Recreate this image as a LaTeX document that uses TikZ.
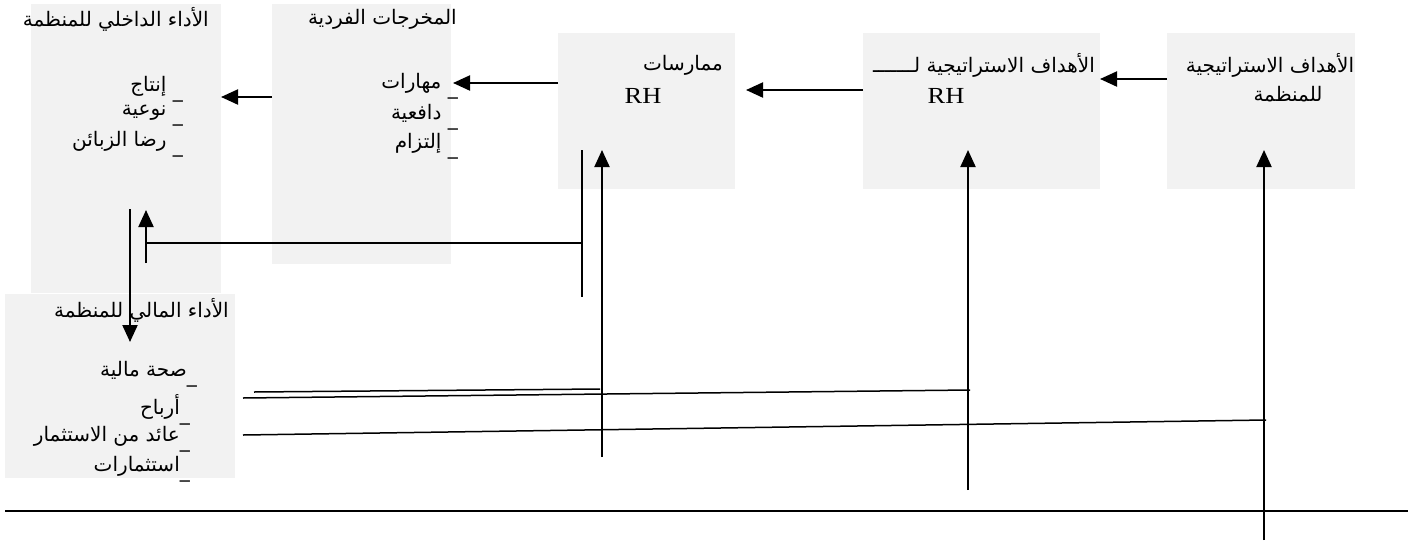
\documentclass[tikz,border=0pt]{standalone}
\usepackage{fontspec}
\setmainfont{Liberation Serif}
\newfontfamily\arabicfont[Script=Arabic]{DejaVu Sans}
\usetikzlibrary{arrows.meta}
\TeXXeTstate=1
\definecolor{boxgray}{HTML}{F2F2F2}
% right-to-left Arabic run
\newcommand{\artext}[1]{\beginR #1\endR}
% the lowered dash that opens each list item
\newcommand{\lowdash}{\smash{\raisebox{-6pt}{\_}}}

\begin{document}
\begin{tikzpicture}[x=1pt,y=-1pt,
  panel/.style={fill=boxgray,draw=none,inner sep=0pt,outer sep=0pt,anchor=north west},
  atext/.style={inner sep=0pt,font=\arabicfont\fontsize{20}{23}\selectfont},
  rhtext/.style={inner sep=0pt,font=\fontsize{23}{26}\selectfont},
  arr/.style={line width=2.1pt,-{Triangle[length=17pt,width=15pt]}},
  thin/.style={line width=1.5pt},
  rule/.style={line width=2pt}]
\useasboundingbox (0,0) rectangle (1416,544);

% panels
\node[panel,minimum width=190pt,minimum height=289pt] (inner) at (31,4) {};
\node[panel,minimum width=230pt,minimum height=184pt] (fin) at (5,294) {};
\node[panel,minimum width=179pt,minimum height=260pt] (outp) at (272,4) {};
\node[panel,minimum width=177pt,minimum height=156pt] (prac) at (558,33) {};
\node[panel,minimum width=237pt,minimum height=156pt] (rhobj) at (863,33) {};
\node[panel,minimum width=188pt,minimum height=156pt] (orgobj) at (1167,33) {};

% internal performance
\node[atext,anchor=east] (t1) at (209,19) {\artext{الأداء الداخلي للمنظمة}};
\node[atext,anchor=east] (t1a) at (183,86) {\artext{\lowdash\ إنتاج}};
\node[atext,anchor=east] (t1b) at (183,113) {\artext{\lowdash\ نوعية}};
\node[atext,anchor=east] (t1c) at (183,141) {\artext{\lowdash\ رضا الزبائن}};

% individual outputs
\node[atext,anchor=east] (t2) at (457,19) {\artext{المخرجات الفردية}};
\node[atext,anchor=east] (t2a) at (458,83) {\artext{\lowdash\ مهارات}};
\node[atext,anchor=east] (t2b) at (458,113) {\artext{\lowdash\ دافعية}};
\node[atext,anchor=east] (t2c) at (458,143) {\artext{\lowdash\ إلتزام}};

% financial performance
\node[atext,anchor=east] (t3) at (229,310) {\artext{الأداء المالي للمنظمة}};
\node[atext,anchor=east] (t3a) at (197,370) {\artext{\lowdash صحة مالية}};
\node[atext,anchor=east] (t3b) at (190,407) {\artext{\lowdash أرباح}};
\node[atext,anchor=east] (t3c) at (190,436) {\artext{\lowdash عائد من الاستثمار}};
\node[atext,anchor=east] (t3d) at (190,466) {\artext{\lowdash استثمارات}};

% HR practices
\node[atext,anchor=east] (t4) at (723,65) {\artext{ممارسات}};
\node[rhtext] (t4r) at (643,96) {\scalebox{1.15}[1]{RH}};

% HR strategic objectives
\node[atext,anchor=east] (t5) at (1095,65) {\artext{الأهداف الاستراتيجية لـــــــ}};
\node[rhtext] (t5r) at (946,96) {\scalebox{1.15}[1]{RH}};

% organisation strategic objectives
\node[atext] (t6) at (1270,65) {\artext{الأهداف الاستراتيجية}};
\node[atext] (t6b) at (1288,94) {\artext{للمنظمة}};

% chain of arrows along the top
\draw[arr] (orgobj.west |- 0,79) -- (rhobj.east |- 0,79);
\draw[arr,shorten >=11pt] (rhobj.west |- 0,90) -- (prac.east |- 0,90);
\draw[arr,shorten >=2pt] (prac.west |- 0,83) -- (outp.east |- 0,83);
\draw[arr] (outp.west |- 0,97) -- (inner.east |- 0,97);

% links between internal and financial performance
\coordinate (d1) at (130,209);
\coordinate (d2) at (130,342);
\draw[arr] (d1) -- (d2);
\coordinate (u1) at (146,263);
\coordinate (u2) at (146,210);
\draw[arr] (u1) -- (u2);
\coordinate (h1) at (146,243);
\coordinate (h2) at (582,243);
\draw[thin] (h1) -- (h2);
\coordinate (v1) at (582,150);
\coordinate (v2) at (582,297);
\draw[thin] (v1) -- (v2);

% upward feedback arrows
\coordinate (p1) at (602,457);
\coordinate (p2) at (602,150);
\draw[arr] (p1) -- (p2);
\coordinate (q1) at (968,490);
\coordinate (q2) at (968,150);
\draw[arr] (q1) -- (q2);
\coordinate (r1) at (1264,540);
\coordinate (r2) at (1264,150);
\draw[arr] (r1) -- (r2);

% return lines from the financial panel
\coordinate (l1a) at (254,392);
\coordinate (l1b) at (600,389);
\draw[thin] (l1a) -- (l1b);
\coordinate (l2a) at (243,398);
\coordinate (l2b) at (970,390);
\draw[thin] (l2a) -- (l2b);
\coordinate (l3a) at (243,435);
\coordinate (l3b) at (1266,420);
\draw[thin] (l3a) -- (l3b);

% base rule
\coordinate (b1) at (5,511);
\coordinate (b2) at (1408,511);
\draw[rule] (b1) -- (b2);
\end{tikzpicture}
\end{document}
